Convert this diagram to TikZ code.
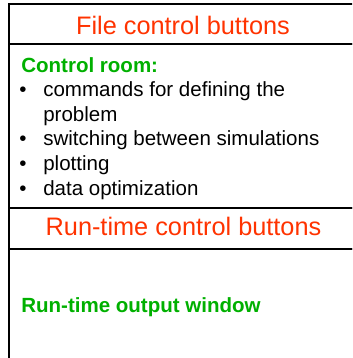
\documentclass[tikz,border=0pt]{standalone}
\usepackage{fontspec}
\setmainfont{Liberation Sans}
\usepackage{tikz}
\usetikzlibrary{positioning}
\usepackage{xcolor}
\definecolor{btnred}{RGB}{255,51,0}
\definecolor{roomgreen}{RGB}{0,176,0}

\begin{document}
\begin{tikzpicture}[
    frame/.style={draw, line width=1.4pt},
    btntext/.style={font=\fontsize{18}{21}\selectfont, text=btnred, anchor=base, inner sep=0pt},
    head/.style={font=\fontsize{14.6}{17.5}\selectfont\bfseries, text=roomgreen, anchor=base west, inner sep=0pt},
    entry/.style={font=\fontsize{14.6}{17.5}\selectfont, anchor=base west, inner sep=0pt},
    dot/.style={font=\fontsize{14.6}{17.5}\selectfont, anchor=base, inner sep=0pt}
  ]
    \useasboundingbox (0, 0) rectangle (8.8, 8.95);
    \clip (0, 0) rectangle (8.8, 8.95);

    % Window frames
    \draw[frame] (0.225, 8.85) rectangle (9, 7.85);
    \draw[frame] (0.225, 7.85) rectangle (9, 3.75);
    \draw[frame] (0.225, 3.75) rectangle (9, 2.725);
    \draw[frame] (0.225, 2.725) rectangle (9, -0.5);

    % File control buttons
    \node[btntext] (filebtn) at (4.575, 8.075) {File control buttons};

    % Control room
    \node[head] (room) at (0.525, 7.125) {Control room:};
    \node[dot] (b1) at (0.575, 6.525) {•};
    \node[entry] (cmd) at (1.075, 6.525) {commands for defining the};
    \node[entry] (cmdb) at (1.075, 5.9125) {problem};
    \node[dot] (b2) at (0.575, 5.3) {•};
    \node[entry] (switch) at (1.075, 5.3) {switching between simulations};
    \node[dot] (b3) at (0.575, 4.675) {•};
    \node[entry] (plot) at (1.075, 4.675) {plotting};
    \node[dot] (b4) at (0.575, 4.05) {•};
    \node[entry] (optim) at (1.075, 4.05) {data optimization};

    % Run-time control buttons
    \node[btntext] (runbtn) at (4.5875, 3.05) {Run-time control buttons};

    % Output window
    \node[head] (outwin) at (0.525, 1.125) {Run-time output window};
\end{tikzpicture}
\end{document}
